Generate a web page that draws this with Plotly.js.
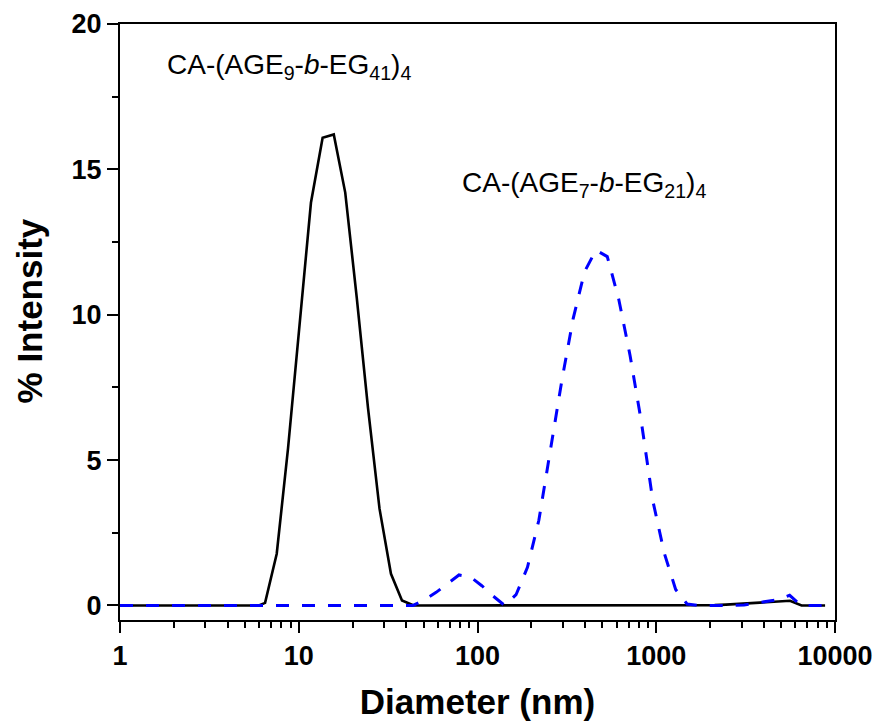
<!DOCTYPE html>
<html>
<head>
<meta charset="utf-8">
<script src="https://cdn.plot.ly/plotly-3.0.1.min.js"></script>
<style>
html,body{margin:0;padding:0;background:#fff;}
#chart{width:877px;height:721px;}
</style>
</head>
<body>
<div id="chart"></div>
<script>
// CA-(AGE9-b-EG41)4 : black solid
const diamA = [1, 2, 4, 5.99, 6.48, 7.53, 8.71, 10.1, 11.7, 13.6, 15.7, 18.2, 21.1, 24.4, 28.3, 32.8, 37.8, 44.0,
  100, 500, 1000, 1830, 2120, 2455, 2845, 3295, 3815, 4420, 5000, 5600, 6500, 7500, 8800];
const intA = [0, 0, 0, 0, 0.09, 1.78, 5.4, 9.7, 13.85, 16.09, 16.2, 14.2, 10.6, 6.8, 3.33, 1.09, 0.17, 0,
  0, 0, 0, 0, 0.01, 0.03, 0.05, 0.07, 0.1, 0.12, 0.14, 0.16, 0, 0, 0];

// CA-(AGE7-b-EG21)4 : blue dashed
const diamB = [1, 2, 4, 6, 10, 20, 30, 43.6, 50.6, 58.7, 68.0, 78.8, 91.3, 105.7, 122.5, 141.9, 164.3, 190.3, 220.4,
  255.3, 295.7, 342.4, 396.6, 459.3, 532, 616, 713.6, 826, 957, 1109, 1284, 1487, 1722, 2500, 3100, 3590, 4157,
  4815, 5576, 6457, 8663];
const intB = [0, 0, 0, 0, 0, 0, 0, 0, 0.2, 0.45, 0.75, 1.05, 0.98, 0.68, 0.32, 0, 0.37, 1.31, 2.93,
  5.36, 7.7, 9.85, 11.47, 12.22, 12.0, 10.55, 8.6, 6.3, 3.6, 1.8, 0.55, 0.05, 0, 0, 0.02, 0.08, 0.13,
  0.2, 0.35, 0, 0];

const xTickVals = [1, 10, 100, 1000, 10000];
const xTickText = ['1', '10', '100', '1000', '10000'];
const yTickVals = [0, 5, 10, 15, 20];
const yTickText = ['0', '5', '10', '15', '20'];
const xTitle = 'Diameter (nm)';
const yTitle = '% Intensity';
const labelA = 'CA-(AGE<sub>9</sub>-<i>b</i>-EG<sub>41</sub>)<sub>4</sub>';
const labelB = 'CA-(AGE<sub>7</sub>-<i>b</i>-EG<sub>21</sub>)<sub>4</sub>';

const minorX = [];
for (let d = 1; d < 10000; d *= 10) {
  for (let k = 2; k <= 9; k++) minorX.push(k * d);
}

const tickFont = {family: 'Liberation Sans, Arial, sans-serif', size: 27, color: '#000', weight: 'bold'};
const titleFont = {family: 'Liberation Sans, Arial, sans-serif', size: 35, color: '#000', weight: 'bold'};
const labelFont = {family: 'Liberation Sans, Arial, sans-serif', size: 28, color: '#000'};

const traces = [
  {x: diamA, y: intA, type: 'scatter', mode: 'lines', line: {color: '#000000', width: 2.6}, hoverinfo: 'skip'},
  {x: diamB, y: intB, type: 'scatter', mode: 'lines', line: {color: '#0000FF', width: 3, dash: '13px,13px'}, hoverinfo: 'skip'}
];

const layout = {
  width: 877, height: 721,
  margin: {l: 120, r: 42, t: 24, b: 101},
  paper_bgcolor: '#fff', plot_bgcolor: '#fff',
  showlegend: false,
  xaxis: {
    type: 'log', range: [0, 4],
    tickmode: 'array', tickvals: xTickVals, ticktext: xTickText,
    ticks: 'outside', ticklen: 11, tickwidth: 2, tickcolor: '#000',
    minor: {tickmode: 'array', tickvals: minorX, ticks: 'outside', ticklen: 6, tickwidth: 2, tickcolor: '#000', showgrid: false},
    showline: true, linecolor: '#000', linewidth: 2, mirror: true,
    showgrid: false, zeroline: false,
    tickfont: tickFont,
    title: {text: xTitle, font: titleFont, standoff: 22}
  },
  yaxis: {
    range: [-0.5, 20],
    tickmode: 'array', tickvals: yTickVals, ticktext: yTickText,
    ticks: 'outside', ticklen: 11, tickwidth: 2, tickcolor: '#000',
    minor: {dtick: 2.5, tick0: 0, ticks: 'outside', ticklen: 6, tickwidth: 2, tickcolor: '#000', showgrid: false},
    showline: true, linecolor: '#000', linewidth: 2, mirror: true,
    showgrid: false, zeroline: false,
    tickfont: tickFont
  },
  annotations: [
    {text: yTitle, xref: 'paper', yref: 'paper', x: -0.127, y: 0.518, xanchor: 'center', yanchor: 'middle',
     textangle: -90, showarrow: false, font: titleFont},
    {text: labelA, xref: 'paper', yref: 'paper', x: 0.063, y: 0.928, xanchor: 'left', yanchor: 'middle', showarrow: false,
     font: labelFont},
    {text: labelB, xref: 'paper', yref: 'paper', x: 0.4755, y: 0.731, xanchor: 'left', yanchor: 'middle', showarrow: false,
     font: labelFont}
  ]
};

Plotly.newPlot('chart', traces, layout, {staticPlot: true, displayModeBar: false});
</script>
</body>
</html>
